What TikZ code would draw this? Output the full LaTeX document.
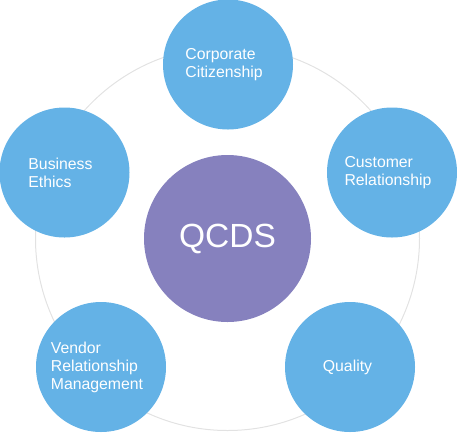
\documentclass[tikz,border=0pt]{standalone}
\usepackage{fontspec}
\setmainfont{Liberation Sans}
\definecolor{satblue}{HTML}{64B2E6}
\definecolor{hubpurple}{HTML}{8681BE}
\definecolor{ringgray}{HTML}{E2E2E2}
\begin{document}
\begin{tikzpicture}[x=1pt,y=-1pt,
  sat/.style={circle,fill=satblue,minimum size=130pt,inner sep=0pt},
  sattext/.style={text=white,align=left,inner sep=0pt,font=\fontsize{15.8}{18}\selectfont},
  hub/.style={circle,fill=hubpurple,minimum size=167pt,inner sep=0pt,text=white,
    font=\fontsize{33.5}{36}\selectfont},
  ring/.style={draw=ringgray,line width=1pt}]
\useasboundingbox (0,0) rectangle (457,432);
\coordinate (c) at (227.5,238.5);
\draw[ring] (c) circle (192pt);
\node[hub] (qcds) at (c) {QCDS};
\node[sat] (cc) at (228,64.5) {};
\node[sat] (be) at (64.5,172.5) {};
\node[sat] (cr) at (392,172.5) {};
\node[sat] (vr) at (101,367) {};
\node[sat] (q) at (350,367) {};
\node[sattext] (cct) at ([xshift=-4pt]cc) {Corporate\\Citizenship};
\node[sattext] (bet) at ([xshift=-4pt]be) {Business\\Ethics};
\node[sattext] (crt) at ([xshift=-4pt]cr) {Customer\\Relationship};
\node[sattext] (vrt) at ([xshift=-4pt]vr) {Vendor\\Relationship\\Management};
\node[sattext] (qt) at ([xshift=-2.5pt]q) {Quality};
\end{tikzpicture}
\end{document}
